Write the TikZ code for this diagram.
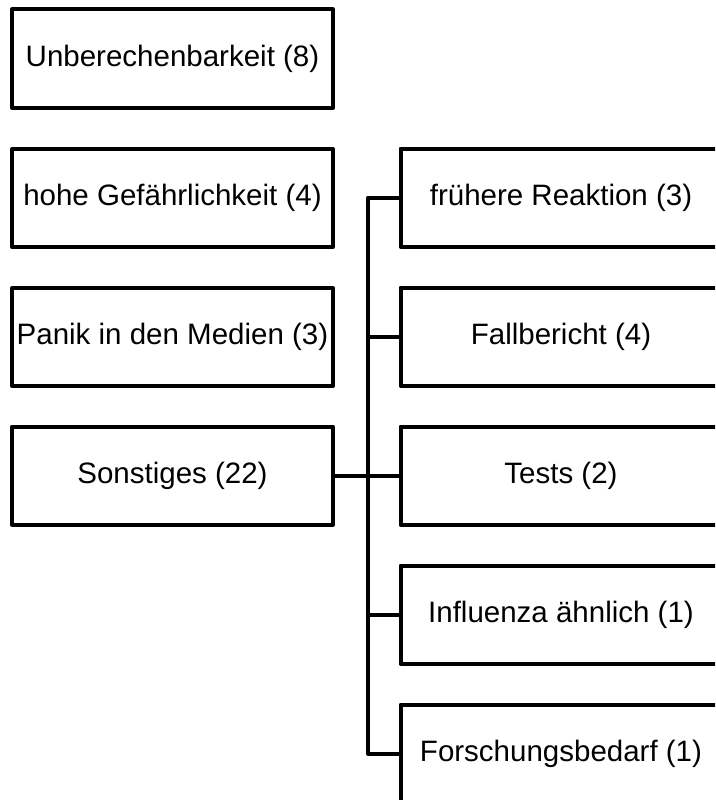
\documentclass[tikz,border=0pt]{standalone}
\usepackage{fontspec}
\setmainfont{Liberation Sans}
\begin{document}
\begin{tikzpicture}[x=1pt,y=-1pt,
  box/.style={draw=black, line width=4pt, line join=round, fill=white,
    minimum width=321pt, minimum height=98pt, inner sep=0pt,
    font=\fontsize{29.5}{34}\selectfont},
  link/.style={draw=black, line width=4pt, line join=round}]
  \path[use as bounding box] (0,0) rectangle (715,800);
  \clip (0,0) rectangle (715,800);

  % left column
  \node[box] (l1) at (172.5,58.5)  {Unberechenbarkeit (8)};
  \node[box] (l2) at (172.5,198)   {hohe Gefährlichkeit (4)};
  \node[box] (l3) at (172.5,337)   {Panik in den Medien (3)};
  \node[box] (l4) at (172.5,475.5) {Sonstiges (22)};

  % right column
  \node[box] (r1) at (561,197.5) {frühere Reaktion (3)};
  \node[box] (r2) at (561,336.5) {Fallbericht (4)};
  \node[box] (r3) at (561,475.5) {Tests (2)};
  \node[box] (r4) at (561,614.5) {Influenza ähnlich (1)};
  \node[box] (r5) at (561,753.5) {Forschungsbedarf (1)};

  % branching connectors
  \coordinate (tk) at (368,0);
  \draw[link] (l4.east) -- (r3.west);
  \draw[link] (r1.west) -- (r1.west -| tk) -- (r5.west -| tk) -- (r5.west);
  \draw[link] (r2.west) -- (r2.west -| tk);
  \draw[link] (r4.west) -- (r4.west -| tk);
\end{tikzpicture}
\end{document}
